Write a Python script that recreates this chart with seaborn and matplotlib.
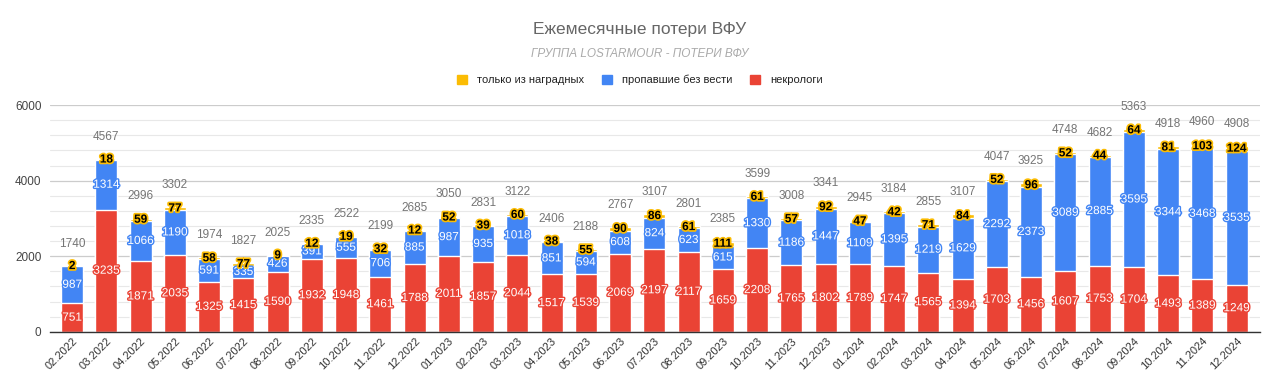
import numpy as np
import matplotlib
matplotlib.use("Agg")
import matplotlib.pyplot as plt
import matplotlib.patheffects as pe
from matplotlib.patches import Patch
from matplotlib.ticker import MultipleLocator
import seaborn as sns

# данные по месяцам
months = ["02.2022", "03.2022", "04.2022", "05.2022", "06.2022", "07.2022", "08.2022",
          "09.2022", "10.2022", "11.2022", "12.2022", "01.2023", "02.2023", "03.2023",
          "04.2023", "05.2023", "06.2023", "07.2023", "08.2023", "09.2023", "10.2023",
          "11.2023", "12.2023", "01.2024", "02.2024", "03.2024", "04.2024", "05.2024",
          "06.2024", "07.2024", "08.2024", "09.2024", "10.2024", "11.2024", "12.2024"]
necro = [751, 3235, 1871, 2035, 1325, 1415, 1590, 1932, 1948, 1461, 1788, 2011, 1857, 2044,
         1517, 1539, 2069, 2197, 2117, 1659, 2208, 1765, 1802, 1789, 1747, 1565, 1394, 1703,
         1456, 1607, 1753, 1704, 1493, 1389, 1249]
missing = [987, 1314, 1066, 1190, 591, 335, 426, 391, 555, 706, 885, 987, 935, 1018,
           851, 594, 608, 824, 623, 615, 1330, 1186, 1447, 1109, 1395, 1219, 1629, 2292,
           2373, 3089, 2885, 3595, 3344, 3468, 3535]
awards = [2, 18, 59, 77, 58, 77, 9, 12, 19, 32, 12, 52, 39, 60, 38, 55, 90, 86, 61, 111,
          61, 57, 92, 47, 42, 71, 84, 52, 96, 52, 44, 64, 81, 103, 124]
series_names = ["только из наградных", "пропавшие без вести", "некрологи"]

RED, BLUE, YELLOW = "#ea4335", "#4285f4", "#fbbc04"

necro = np.array(necro)
missing = np.array(missing)
awards = np.array(awards)
lower = necro + missing
total = lower + awards

sns.set_style("white")
plt.rcParams['font.family'] = ['Liberation Sans', 'DejaVu Sans']

fig = plt.figure(figsize=(12.8, 3.89), dpi=100)
ax = fig.add_axes([0.039, 0.147, 0.945, 0.583])

# стек: рисуем накопленные суммы поверх друг друга
sns.barplot(x=months, y=total, color=YELLOW, saturation=1, width=0.64, ax=ax)
sns.barplot(x=months, y=lower, color=BLUE, saturation=1, width=0.64, ax=ax)
sns.barplot(x=months, y=necro, color=RED, saturation=1, width=0.64, ax=ax)

ax.set_ylim(0, 6000)
ax.set_xlim(-0.65, len(months) - 0.33)
ax.yaxis.set_major_locator(MultipleLocator(2000))
ax.yaxis.set_minor_locator(MultipleLocator(400))
ax.grid(axis="y", which="major", color="#cccccc", linewidth=0.9)
ax.grid(axis="y", which="minor", color="#e8e8e8", linewidth=0.8)
ax.set_axisbelow(True)
for s in ["top", "right", "left"]:
    ax.spines[s].set_visible(False)
ax.spines["bottom"].set_color("#333333")
ax.spines["bottom"].set_linewidth(1.0)
ax.tick_params(axis="y", which="both", length=0, labelsize=8.5, labelcolor="#444444", pad=6)
ax.tick_params(axis="x", length=0, labelsize=8, labelcolor="#333333", pad=3)
for lbl in ax.get_xticklabels():
    lbl.set_rotation(45)
    lbl.set_ha("right")
    lbl.set_rotation_mode("anchor")
ax.set_xlabel("")
ax.set_ylabel("")

# подписи значений
for i in range(len(months)):
    ax.text(i, necro[i] / 2, str(necro[i]), ha="center", va="center", fontsize=8.5,
            color="white", path_effects=[pe.withStroke(linewidth=2, foreground=RED)])
    ax.text(i, necro[i] + missing[i] / 2, str(missing[i]), ha="center", va="center",
            fontsize=8.5, color="white",
            path_effects=[pe.withStroke(linewidth=2, foreground=BLUE)])
    ax.text(i, lower[i] + awards[i] / 2, str(awards[i]), ha="center", va="center",
            fontsize=8.5, color="black", fontweight="bold",
            path_effects=[pe.withStroke(linewidth=2.5, foreground=YELLOW)])
    ax.annotate(str(total[i]), (i, total[i]), xytext=(0, 16), textcoords="offset points",
                ha="center", va="center", fontsize=8.5, color="#757575")

fig.text(0.5, 0.923, "Ежемесячные потери ВФУ", ha="center", va="center",
         fontsize=12.5, color="#666666")
fig.text(0.5, 0.862, "ГРУППА LOSTARMOUR - ПОТЕРИ ВФУ", ha="center", va="center",
         fontsize=8.5, color="#aaaaaa", style="italic")

handles = [Patch(color=YELLOW), Patch(color=BLUE), Patch(color=RED)]
fig.legend(handles, series_names, loc="center", bbox_to_anchor=(0.5, 0.795), ncol=3,
           frameon=False, fontsize=8, handlelength=0.9, handleheight=0.9,
           columnspacing=1.6, handletextpad=0.9, labelcolor="#222222")

fig.savefig("out.png", dpi=100)
